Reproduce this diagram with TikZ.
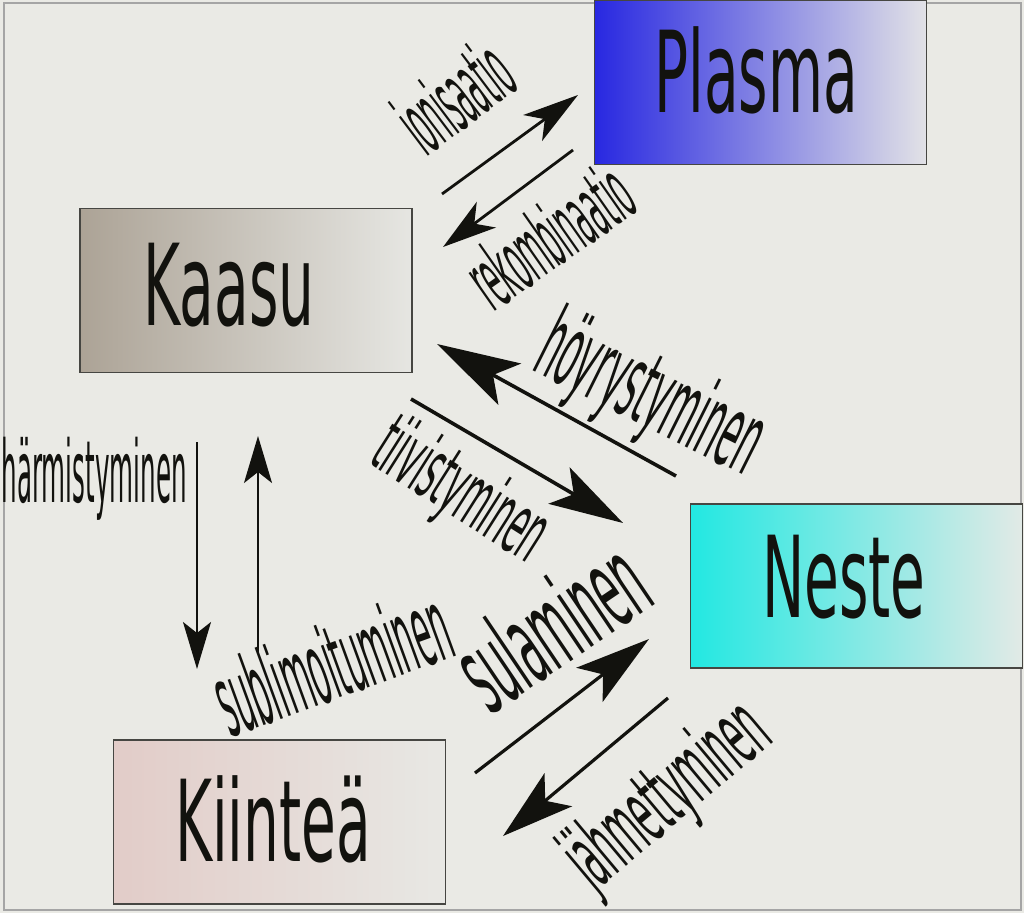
\documentclass[tikz,border=0pt]{standalone}
\usepackage{fontspec}
\usepackage{graphicx}
\usetikzlibrary{arrows.meta}
\newfontfamily\dv{DejaVu Sans}
\definecolor{bg}{RGB}{234,234,229}
\definecolor{frame}{RGB}{165,165,165}
\definecolor{boxline}{RGB}{70,70,66}
\definecolor{plasmaL}{RGB}{40,40,225}
\definecolor{plasmaR}{RGB}{226,226,230}
\definecolor{kaasuL}{RGB}{172,163,150}
\definecolor{kaasuR}{RGB}{230,230,226}
\definecolor{nesteL}{RGB}{34,232,226}
\definecolor{nesteR}{RGB}{226,234,230}
\definecolor{kiinL}{RGB}{226,204,200}
\definecolor{kiinR}{RGB}{232,232,228}
\definecolor{ink}{RGB}{18,18,14}
\newcommand{\bigtxt}[1]{{\dv\fontsize{113}{113}\selectfont\scalebox{0.5}[1]{#1}}}
\newcommand{\smalltxt}[3]{{\dv\fontsize{#1}{#1}\selectfont\scalebox{#2}[1]{#3}}}
\tikzset{
  statebox/.style={draw=boxline, line width=1.3pt, minimum width=332pt, minimum height=164pt, inner sep=0pt},
  statetext/.style={anchor=base, inner sep=0pt, text=ink},
  proclabel/.style={anchor=base west, inner sep=0pt, text=ink},
  thinarrow/.style={draw=ink, line width=2pt, -{Stealth[length=47pt, width=28pt, inset=11pt]}},
}
\begin{document}
\begin{tikzpicture}[x=1pt, y=-1pt]
\useasboundingbox (0,0) rectangle (1024,913);
\fill[bg] (0,0) rectangle (1024,913);
\draw[frame, line width=1.5pt] (4,3) rectangle (1021,910);

% state boxes
\node[statebox, left color=plasmaL, right color=plasmaR] (plasma) at (760.5,82.5) {};
\node[statebox, left color=kaasuL, right color=kaasuR] (kaasu) at (246,290.5) {};
\node[statebox, left color=nesteL, right color=nesteR] (neste) at (856.5,586) {};
\node[statebox, left color=kiinL, right color=kiinR] (kiintea) at (279.5,822) {};

\node[statetext] (plasmaT) at (756,112) {\bigtxt{Plasma}};
\node[statetext] (kaasuT) at (229,325) {\bigtxt{Kaasu}};
\node[statetext] (nesteT) at (844,617) {\bigtxt{Neste}};
\node[statetext] (kiinteaT) at (273,861) {\bigtxt{Kiinteä}};

% arrow end points
\coordinate (ionA) at (442,194);   \coordinate (ionB) at (578,95);
\coordinate (rekA) at (573,150);   \coordinate (rekB) at (443,247);
\coordinate (hoyA) at (676,476);   \coordinate (hoyB) at (437,344);
\coordinate (tiiA) at (411,399);   \coordinate (tiiB) at (623,523);
\coordinate (harA) at (197,442);   \coordinate (harB) at (197,669);
\coordinate (subA) at (258,653);   \coordinate (subB) at (258,436);
\coordinate (sulA) at (475,773);   \coordinate (sulB) at (649,639);
\coordinate (jahA) at (668,698);   \coordinate (jahB) at (503,836);

\draw[draw=ink, line width=2.8pt, -{Stealth[length=56pt, width=32pt, inset=15pt]}] (ionA) -- (ionB);
\draw[draw=ink, line width=2.8pt, -{Stealth[length=54pt, width=32pt, inset=15pt]}] (rekA) -- (rekB);
\draw[draw=ink, line width=3.6pt, -{Stealth[length=83pt, width=47pt, inset=19pt]}] (hoyA) -- (hoyB);
\draw[draw=ink, line width=3.6pt, -{Stealth[length=74pt, width=42pt, inset=17pt]}] (tiiA) -- (tiiB);
\draw[thinarrow] (harA) -- (harB);
\draw[thinarrow] (subA) -- (subB);
\draw[draw=ink, line width=3.2pt, -{Stealth[length=75pt, width=43pt, inset=17pt]}] (sulA) -- (sulB);
\draw[draw=ink, line width=3.2pt, -{Stealth[length=72pt, width=43pt, inset=17pt]}] (jahA) -- (jahB);

% process labels
\node[proclabel, rotate=37] (ionL) at (426,158) {\smalltxt{88}{0.28}{ionisaatio}};
\node[proclabel, rotate=35] (rekL) at (493,313) {\smalltxt{84}{0.30}{rekombinaatio}};
\node[proclabel, rotate=-26.5] (hoyL) at (530,369) {\smalltxt{100}{0.32}{höyrystyminen}};
\node[proclabel, rotate=-32.4] (tiiL) at (367,462) {\smalltxt{84}{0.35}{tiivistyminen}};
\node[proclabel, anchor=base east] (harL) at (187,502) {\smalltxt{86}{0.286}{härmistyminen}};
\node[proclabel, rotate=20] (subL) at (230,738) {\smalltxt{100}{0.29}{sublimoituminen}};
\node[proclabel, rotate=34] (sulL) at (490,716) {\smalltxt{112}{0.35}{sulaminen}};
\node[proclabel, rotate=40] (jahL) at (594,893) {\smalltxt{90}{0.345}{jähmettyminen}};
\end{tikzpicture}
\end{document}
